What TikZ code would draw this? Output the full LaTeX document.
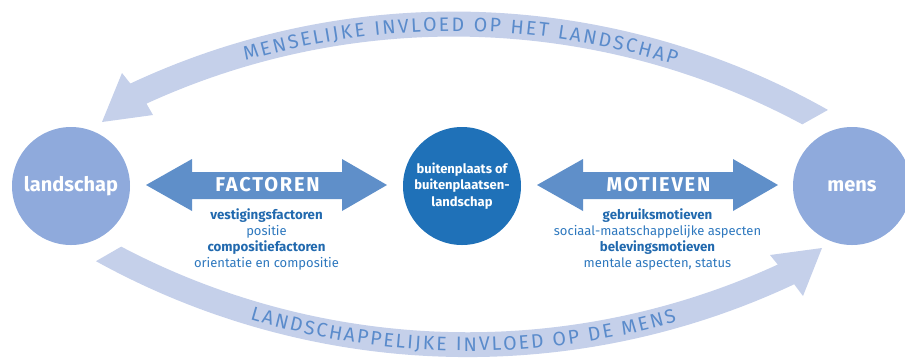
\documentclass[tikz,border=0pt]{standalone}
\usepackage{fontspec}
\setmainfont{Fira Sans}
\usetikzlibrary{decorations.text}
\definecolor{bandc}{HTML}{C5D0EA}
\definecolor{circc}{HTML}{8FAADC}
\definecolor{arrc}{HTML}{5F8FC9}
\definecolor{midc}{HTML}{1F71B8}
\definecolor{txtc}{HTML}{2E78BE}
\definecolor{txtb}{HTML}{2169AE}
\definecolor{arctxt}{HTML}{5A8BCB}
\begin{document}
\begin{tikzpicture}[x=1pt,y=1pt,
  sidecirc/.style={circle, fill=circc, minimum size=118pt, inner sep=0pt, text=white,
    font=\fontsize{20}{24}\selectfont\bfseries},
  midcirc/.style={circle, fill=midc, minimum size=118pt, inner sep=0pt},
  midtext/.style={align=center, text=white, inner sep=0pt,
    font=\fontsize{13}{16.5}\selectfont\bfseries},
  band/.style={fill=bandc},
  dblarrow/.style={fill=arrc},
  arrlabel/.style={anchor=base, inner sep=0pt, text=white,
    font=\fontsize{20}{23}\selectfont\bfseries\addfontfeatures{LetterSpace=9}},
  lbl/.style={anchor=base, inner sep=0pt, text=txtc, font=\fontsize{13}{15}\selectfont},
  lblb/.style={anchor=base, inner sep=0pt, text=txtb, font=\fontsize{13.3}{15}\selectfont\bfseries},
  arcfont/.style={decorate, decoration={text along path, text align={fit to path}, text color=arctxt}}
]
\useasboundingbox (0,0) rectangle (905,-357);

% centres of the curved bands
\coordinate (tc) at (453.6,-773);
\coordinate (bc) at (467.7,411.4);

% top curved arrow: mens -> landschap
\fill[band] ([shift={(60.55:761.5)}]tc) arc[start angle=60.55, end angle=115.12, radius=761.5]
  -- (122,-73) -- (102,-122) -- (153,-115)
  -- ([shift={(114.65:736.5)}]tc) arc[start angle=114.65, end angle=61.74, radius=736.5] -- cycle;

% bottom curved arrow: landschap -> mens
\fill[band] ([shift={(241.07:768.5)}]bc) arc[start angle=241.07, end angle=295.14, radius=768.5]
  -- (803,-296) -- (822,-248) -- (770,-255)
  -- ([shift={(294.64:743.7)}]bc) arc[start angle=294.64, end angle=242.23, radius=743.7] -- cycle;

% arc texts
\path[arcfont, decoration={text={|\fontsize{19.5}{22}\selectfont|MENSELIJKE INVLOED OP HET LANDSCHAP}}]
  ([shift={(106.3:742)}]tc) arc[start angle=106.3, end angle=72.6, radius=742];
\path[arcfont, decoration={text={|\fontsize{19.5}{22}\selectfont|LANDSCHAPPELIJKE INVLOED OP DE MENS}}]
  ([shift={(253.4:762.5)}]bc) arc[start angle=253.4, end angle=285.9, radius=762.5];

% circles
\node[sidecirc] (landschap) at (71,-186) {landschap};
\node[sidecirc] (mens) at (852,-186) {mens};
\node[midcirc] (bp) at (462,-186) {};
\node[midtext] (bptext) at (462,-186) {buitenplaats of\\buitenplaatsen-\\landschap};

% double arrows
\fill[dblarrow] (146,-185) -- (192,-159) -- (192,-172) -- (342,-172) -- (342,-159) -- (387,-185)
  -- (342,-211) -- (342,-199) -- (192,-199) -- (192,-211) -- cycle;
\fill[dblarrow] (537,-185) -- (583,-159) -- (583,-172) -- (733,-172) -- (733,-159) -- (778,-185)
  -- (733,-211) -- (733,-199) -- (583,-199) -- (583,-211) -- cycle;
\node[arrlabel] (factoren) at (267.5,-191.7) {FACTOREN};
\node[arrlabel] (motieven) at (658.5,-191.7) {MOTIEVEN};

% factor texts
\node[lblb] (vf) at (266.5,-219) {vestigingsfactoren};
\node[lbl] (pos) at (266.5,-235) {positie};
\node[lblb] (cf) at (266.5,-251) {compositiefactoren};
\node[lbl] (oc) at (266.5,-267) {orientatie en compositie};

% motive texts
\node[lblb] (gm) at (657.5,-219) {gebruiksmotieven};
\node[lbl] (sm) at (657.5,-235) {sociaal-maatschappelijke aspecten};
\node[lblb] (bm) at (657.5,-251) {belevingsmotieven};
\node[lbl] (ma) at (657.5,-267) {mentale aspecten, status};
\end{tikzpicture}
\end{document}
